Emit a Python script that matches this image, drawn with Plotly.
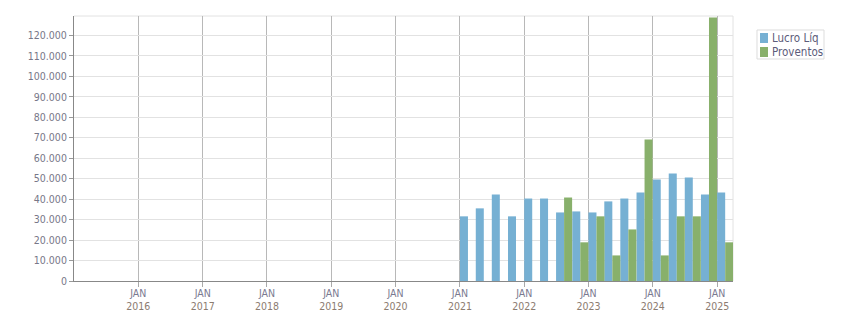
import plotly.graph_objects as go

quarters = ["2021-01-01", "2021-04-01", "2021-07-01", "2021-10-01",
            "2022-01-01", "2022-04-01", "2022-07-01", "2022-10-01",
            "2023-01-01", "2023-04-01", "2023-07-01", "2023-10-01",
            "2024-01-01", "2024-04-01", "2024-07-01", "2024-10-01",
            "2025-01-01"]
lucro_liq = [31600, 35500, 42300, 31600,
             40300, 40300, 33500, 34000,
             33500, 38900, 40300, 43300,
             49600, 52500, 50600, 42300,
             43300]
proventos = [None, None, None, None,
             None, None, 40800, 18900,
             31600, 12500, 25200, 69100,
             12500, 31600, 31600, 128800,
             18900]
year_ticks = ["2016-01-01", "2017-01-01", "2018-01-01", "2019-01-01", "2020-01-01",
              "2021-01-01", "2022-01-01", "2023-01-01", "2024-01-01", "2025-01-01"]
year_labels = ["2016", "2017", "2018", "2019", "2020", "2021", "2022", "2023", "2024", "2025"]
y_ticks = [0, 10000, 20000, 30000, 40000, 50000, 60000, 70000, 80000, 90000,
           100000, 110000, 120000]
series_names = ["Lucro Líq", "Proventos"]
series_colors = ["#76B0D3", "#88B06B"]

half_q = 45.6 * 86400000

fig = go.Figure()
fig.add_trace(go.Bar(x=quarters, y=lucro_liq, name=series_names[0],
                     marker=dict(color=series_colors[0], line=dict(width=0)),
                     offset=0, width=half_q, showlegend=False))
fig.add_trace(go.Bar(x=quarters, y=proventos, name=series_names[1],
                     marker=dict(color=series_colors[1], line=dict(width=0)),
                     offset=half_q, width=half_q, showlegend=False))

ticktext = ['<span style="color:#7a7a90">JAN</span><br><span style="color:#8c7c70">%s</span>' % y
            for y in year_labels]

FONT = "DejaVu Sans Condensed, DejaVu Sans, sans-serif"

# custom legend (box, swatches, labels) in paper coordinates
shapes = [
    dict(type="line", xref="paper", yref="paper", x0=0, x1=1, y0=1, y1=1,
         line=dict(color="#e2e2e2", width=1), layer="below"),
    dict(type="line", xref="paper", yref="paper", x0=1, x1=1, y0=0, y1=1,
         line=dict(color="#e2e2e2", width=1), layer="below"),
    dict(type="rect", xref="paper", yref="paper", x0=1.0364, x1=1.1381, y0=0.8377, y1=0.9472,
         line=dict(color="#dddddd", width=1), fillcolor="white"),
]
annotations = []
sw_y = [(0.8981, 0.9358), (0.8453, 0.8830)]
txt_y = [0.917, 0.8640]
for name, col, (y0, y1), ty in zip(series_names, series_colors, sw_y, txt_y):
    shapes.append(dict(type="rect", xref="paper", yref="paper", x0=1.0410, x1=1.0531,
                       y0=y0, y1=y1, line=dict(width=0), fillcolor=col))
    annotations.append(dict(text=name, xref="paper", yref="paper", x=1.0560, y=ty,
                            xanchor="left", yanchor="middle", showarrow=False,
                            font=dict(family=FONT, size=11.5, color="#5c5c7a")))

fig.update_layout(
    width=851, height=313,
    margin=dict(l=74, r=118, t=16, b=32, autoexpand=False),
    paper_bgcolor="white", plot_bgcolor="white",
    barmode="overlay",
    separators=",.",
    font=dict(family=FONT, size=10.5, color="#777788"),
    showlegend=False,
    xaxis=dict(type="date", range=["2015-01-01", "2025-04-01"],
               tickvals=year_ticks, ticktext=ticktext, automargin=False,
               tickfont=dict(size=10.5), ticklabelstandoff=-3,
               showgrid=True, gridcolor="#b8b8b8", gridwidth=1,
               ticks="outside", ticklen=5, tickcolor="#aaaaaa",
               showline=True, linecolor="#888888", linewidth=1,
               zeroline=False, fixedrange=True),
    yaxis=dict(range=[0, 129500], tickvals=y_ticks, tickformat=",d", automargin=False,
               showgrid=True, gridcolor="#e2e2e2", gridwidth=1,
               ticks="outside", ticklen=4, tickcolor="#999999",
               showline=True, linecolor="#888888", linewidth=1,
               zeroline=False, fixedrange=True),
    shapes=shapes,
    annotations=annotations,
)

fig.write_html("out.html")
